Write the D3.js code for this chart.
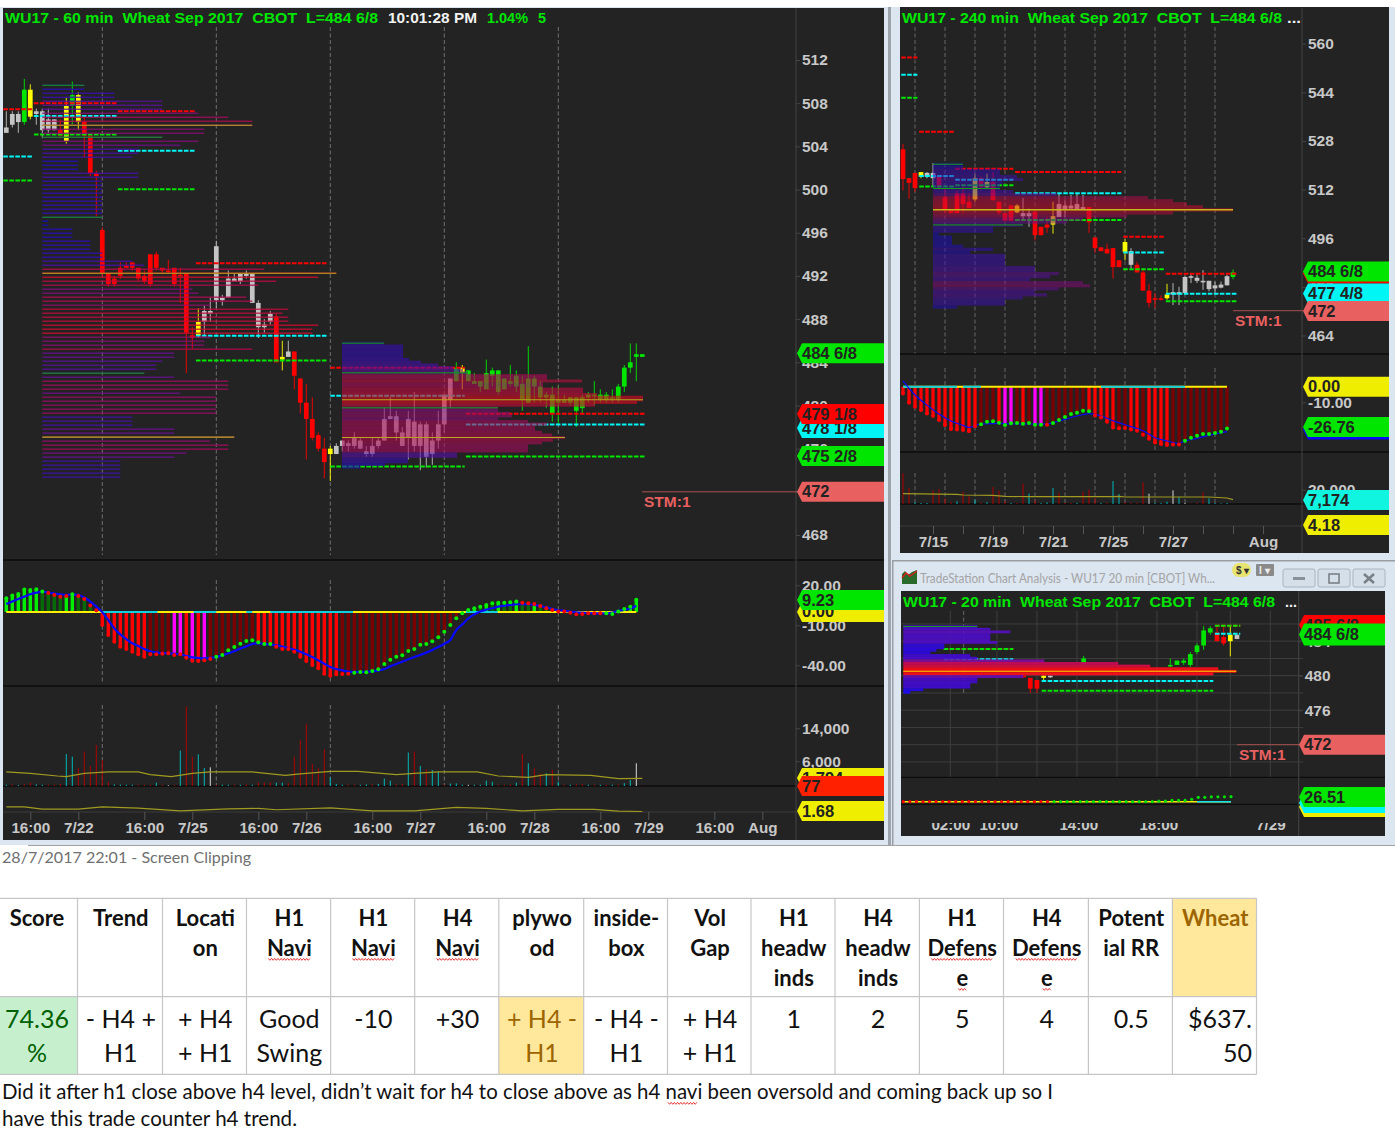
<!DOCTYPE html>
<html>
<head>
<meta charset="utf-8">
<script src="https://d3js.org/d3.v7.min.js"></script>
<style>
body { margin: 0; background: #fff; }
svg { display: block; }
svg text { white-space: pre; }
.tv { font-family: "Liberation Sans", Arial, sans-serif; font-weight: bold; }
.cal { font-family: Lato, "Noto Sans", sans-serif; }
</style>
</head>
<body>
<svg id="chart" width="1395" height="1136"></svg>
<script>
// --- 60 min chart: [body top, body bottom, high, low, kind]
const candles60 = [
[505.75,505.25,507.25,505.25,'w'],[507,506,507.25,505.75,'w'],[507,506.25,507.25,505.25,'w'],[509.25,506.25,510.25,506,'g'],
[509.25,506.75,509.75,506.5,'y'],[507.25,507,507.5,506,'w'],[507.25,505.5,507.5,504.75,'w'],[506.5,505.5,507.5,505.25,'w'],
[506.5,505.5,506.5,505.5,'w'],[505.5,505,506.5,504.75,'r'],[507.75,504.5,508.5,504.25,'y'],[508.75,507.75,510,506,'g'],
[508.75,506.25,509,505.5,'y'],[506.25,505,506.75,503,'r'],[505,501.5,505,501.25,'r'],[501.5,501.25,501.75,497.5,'r'],
[496.25,492.25,496.5,492,'r'],[492.25,491.25,492.25,491,'r'],[491.75,491.25,492,491,'r'],[492.75,492,493.25,491.75,'r'],
[493,492.75,493.25,492.75,'r'],[493.25,492.75,493.25,492.5,'r'],[492.75,491.75,492.75,491.5,'r'],[492,491.5,492.5,491.25,'r'],
[494,491.25,494,491,'r'],[494,492.75,494.25,492.5,'r'],[492.75,492.5,492.75,492.25,'r'],[492.5,492.5,493.5,492.25,'r'],
[492.75,491.25,492.75,491,'r'],[492.1,492.1,492.75,489.5,'r'],[492.25,486.75,492.25,483,'r'],[486.5,486.25,487.25,485.25,'r'],
[487.75,486.5,489,486.25,'y'],[488.75,487.75,489.25,486.5,'w'],[488.75,488.5,490,487.75,'w'],[494.75,489.75,495.25,489,'w'],
[490,489.75,490.25,489.25,'w'],[491.75,490,492.5,490,'w'],[491.75,491.5,492.25,491.5,'w'],[492.25,491.5,492.25,491.25,'w'],
[492.25,492,492.5,491.75,'w'],[492.25,489.5,492.25,489.5,'w'],[489.5,487.25,489.75,486.25,'w'],[487.5,487.25,488,486.75,'w'],
[488.5,487.75,488.75,487.5,'w'],[488.25,484,488.5,484,'r'],[484.5,484.25,486,483.25,'y'],[485,484.5,486,484.5,'w'],
[485,482.75,485,481.5,'r'],[482.5,480.25,482.5,479.25,'r'],[480.25,478.75,482,475,'r'],[478.75,477,480.75,476.75,'r'],
[477.25,476,477.5,475.75,'r'],[476,474.75,477,473.25,'r'],[476,475.5,476.25,473,'y'],[476.25,475.5,476.5,475.5,'w'],
[476.75,476.25,476.75,475.75,'w'],[476.5,476.25,476.75,475.75,'w'],[477,476.25,477.5,476,'w'],[476.75,476,477,476,'w'],
[475.75,475.5,476.25,475.25,'w'],[476.25,475.5,477,475.25,'w'],[476.75,476.25,477,476,'w'],[478.75,476.75,479.75,476.75,'w'],
[479,478.75,480.75,478.75,'w'],[479,477.5,479.5,476.75,'w'],[477.5,476.25,478,476.25,'w'],[478.75,477,479.5,475,'w'],
[478.5,476.25,481.25,475.75,'w'],[478.25,476.25,478.5,474,'w'],[478.25,475.25,478.5,474.25,'w'],[476.75,475.5,477.5,474.5,'w'],
[478.25,476.75,479.5,476,'w'],[481,478.25,481,477.5,'w'],[482.5,480.5,482.5,479.75,'w'],[483.5,482.25,484,482.25,'g'],
[483.5,483,483.75,481.5,'y'],[483.25,482.25,483.25,482.25,'g'],[482.25,482,483,482,'g'],[482.25,481.75,482.25,481.25,'g'],
[483,481.5,484.25,481.5,'g'],[483.25,482.75,483.5,481.75,'g'],[483.25,481.25,483.25,481,'g'],[482.5,481.5,482.5,481.5,'g'],
[482.25,482,483.75,481.75,'g'],[482.75,481.75,483.25,481.25,'g'],[482,480.5,482.75,479.5,'g'],[482.5,480.25,485.5,480.25,'g'],
[482.5,481.75,482.75,480.25,'g'],[481.75,480.75,482.25,480.25,'g'],[481,480.75,481.25,479.75,'g'],[481,479.25,481.75,478.5,'g'],
[480.5,480.25,481.75,478.25,'g'],[480.5,480.25,481,480.25,'g'],[480.75,480.25,480.75,480,'g'],[480.75,479.5,480.75,478,'g'],
[480.75,479.75,481,479.25,'g'],[481,480.75,481.25,480.25,'g'],[481,481,482.25,480,'g'],[481,480.5,481.5,480.25,'g'],
[481,480.5,481.25,480.25,'g'],[480.75,480.75,481.5,480.25,'g'],[481.75,480.5,482,480.25,'g'],[483.5,481.75,483.75,481.25,'g'],
[484,483.5,485.75,483,'g'],[484.75,484.5,485.75,482.25,'g'],[484.75,484.5,484.75,484.5,'g']
];
// [from bar, to bar, red, cyan, green]
const levels60 = [
[-0.5,4.4,507.44,503.06,500.83],[4.6,18.5,508,506.82,505.1],[18.6,31.4,507.25,503.6,500.03],
[31.6,53.4,493.18,486.45,484.17],[54,76.4,483.5,480.9,474.35],[76.6,106.5,479.23,478.24,475.28]
];
const profileA60 = [42,42,72,72,120,120,120,156,186,210,210,162,162,120,156,138,96,96,90,36,36,36,96,96,60,60,60,60,60,60,60,60,60,60,
6,6,30,30,30,48,48,48,60,60,90,102,222,294,276,234,216,150,156,204,210,168,246,240,246,246,276,270,270,168,162,162,210,132,132,120,114,114,
102,132,186,186,186,138,174,174,174,174,174,90,90,90,132,132,192,168,186,186,144,132,78,78,78,78,78];
const profileAGreen = [0,13,33,72];
const profileAPoc = [10,47,88];
const profileB60 = [42,61,61,61,61,61,67,79,96,111,121,126,205,205,240,201,201,241,241,255,301,301,295,253,156,156,168,170,156,186,205,193,193,200,210,223,211,200,186,186,186,115,115,66,66,43,18];
const profileBGreen = [0,11,24];
const profileBPoc = [21,35];

const osc60 = [10.3,12.3,13.5,16.8,16.5,17,15.3,14.3,12.8,11.5,12,13.3,12,9.8,4.8,1.3,
-9.8,-17.3,-22.3,-26,-27.8,-29.8,-31.8,-33.5,-31.8,-31.8,-31.3,-31,-32.3,-31.8,-34.3,-36.5,-36.8,-36.3,-35.3,-33.5,-32.3,-28.8,-26.3,-23.8,-21.8,-21.3,-22.8,-24,-24,-26,-27.8,-27.8,-29.8,-33.5,-36.8,-39.8,-42.3,-46.3,-47.8,-46.8,-46.5,-46.3,-45.5,-45,-45.3,-44.3,-43,-39,-35.8,-33.5,-32.5,-29.3,-27.8,-24.5,-24,-22,-19,-14.8,-9.8,
-4.8,-1,1.5,2.8,4,5.3,6.5,7,7,7.3,7.8,7,6.5,6,4.5,2.8,1.5,0.3,0.3,-0.5,-1.8,-1.5,-1,-1,-1,-1,-1.5,0.3,2.3,4,9.2];
const signal60 = [6,7.8,9.8,11.5,13.3,14.5,15.3,14.5,13.8,13.3,12.8,13,12.8,10.8,7.8,4,
-0.3,-6,-12.3,-16.8,-20.3,-23.5,-25.5,-27.8,-29.5,-30.3,-30.8,-31,-31.3,-31.8,-33,-34,-34.5,-34.8,-34.5,-33.8,-32.5,-31,-29.5,-27.5,-25.8,-24,-23.5,-24,-24.5,-25,-26,-27,-28.3,-29.8,-31.8,-33.8,-36.3,-38.8,-41.3,-42.8,-43.8,-44.8,-45,-45,-44.8,-44.5,-44,-42.8,-40.8,-39,-37.3,-35.5,-33.8,-32.3,-30.5,-28.5,-26.3,-23.8,-21,
-13.5,-9.3,-4.8,-1.8,0.3,1.8,2.8,4,4.8,5.3,5.8,5.8,5.8,5.3,4.5,3.5,2.3,1.3,0.8,0.3,-0.3,-0.5,-0.8,-1,-1,-1,-0.5,0.8,1.5,2.8,4.5];
// bar colour codes: G bright green, g dark green, R bright red, r dark red, M magenta
const oscKinds60 = [['G',6],['g',4],['G',2],['g',4],['R',8],['r',4],['M',2],['R',1],['M',1],['R',1],['M',1],['r',8],['R',14],['r',21],
['G',2],['g',1],['G',1],['g',1],['G',1],['g',2],['G',1],['g',2],['G',1],['g',5],['r',8],['g',1],['G',3]];
const dotKinds60 = [['g',7],['r',4],['g',1],['r',23],['g',10],['r',13],['g',28],['r',14],['g',6]];
const cyanRuns60 = [[16,25.2],[31.2,35],[40,41],[44,57.8],[76.6,81.9]];

const vol60 = [300,350,250,400,810,400,300,350,300,500,7776,7128,4374,8343,4860,9963,6318,1000,400,350,300,300,300,300,300,800,300,200,300,8586,19278,7128,7695,4374,4536,300,300,300,300,300,400,300,900,800,900,800,800,700,7128,11178,15066,5346,4293,8910,2106,500,300,300,300,300,400,400,500,1782,1296,400,500,8100,8343,4860,4050,3888,3564,300,600,648,300,300,300,300,1296,1000,300,300,400,800,7776,5508,4293,3078,3078,3888,1053,300,300,400,500,300,300,300,300,300,300,700,1458,5508,77];
const volKinds60 = 'crcrrccrrrccrrrrrrccccrrrcrwrcrrccwrccrcrcrrrccrrrrrrrcccrrccrcccrrcrcrccrcccwccccrrrcrcrrcrcrcrrcrcrcrccwr';
const volAvgBars60 = [0,4,8.5,10,13,17,22,24,27.5,31,34,41,46.5,49,54,58.6,65,68,72,78.5,82,87,90,97.4,102,106];
const volAvg60 = [3402,3078,2430,2268,3078,3402,3402,2754,2268,3078,3402,3402,2592,2916,3564,3564,2754,3078,3402,3402,2430,2106,2754,2592,1782,1863];
const ratioBars60 = [0,3,6,12,16,22,29,37,42,45,54,61,68,75,80,86,92,98,102,106];
const ratio60 = [2.14,2.14,1.91,1.91,2.14,2.01,1.75,1.94,1.98,1.85,2.04,1.75,1.75,2.08,1.98,1.75,1.88,1.88,1.71,1.68];

const priceTicks60 = [512,508,504,500,496,492,488,484,480,476,472,468];
const gridBars60 = [16,35,54,73,92];
const timeBars60 = [4,12,23,31,42,50,61,69,80,88,99,107,118,126];
const timeLabels60 = ['16:00','7/22','16:00','7/25','16:00','7/26','16:00','7/27','16:00','7/28','16:00','7/29','16:00','Aug'];

// --- 240 min chart
const candles240 = [
[525.25,515.5,527,511.75,'r'],[515.75,514.25,515.75,509,'r'],[517.5,512.5,517.5,511.25,'r'],[517.75,516.25,517.75,515.75,'y'],
[517.5,516.25,517.75,515.75,'w'],[517.5,515.75,520.75,513,'w'],[516.25,512.75,516.25,512,'r'],[509.5,505.25,512.5,504.25,'r'],
[505.25,504.25,505.25,504.25,'r'],[510.75,504.25,511.75,504.25,'r'],[510.75,507.25,513.5,504.25,'r'],[508,506,510.75,506,'r'],
[515.75,508.75,517.25,508,'y'],[515.75,512.75,516.25,512,'r'],[514.5,512.75,517.25,512.25,'y'],[514.5,508.5,517.75,508.5,'r'],
[508,504.5,508,503.75,'r'],[504.25,501.75,504.25,501.75,'r'],[506.75,501.75,507,501.75,'r'],[506.75,504.5,507.25,504.25,'y'],
[504.25,503.25,509.25,502,'w'],[504.25,503.25,505.75,499.75,'w'],[504.75,497,504.75,495.25,'r'],[499.75,497,499.75,497,'r'],
[500.5,499.5,503,497.75,'r'],[503.25,500.5,508,497.5,'y'],[507.25,503,510.75,503,'w'],[506.75,505.5,508.5,503,'w'],
[506.75,505.75,510.25,505.75,'w'],[507.25,505.25,510.75,505.25,'w'],[506.25,505.25,510.25,505.25,'w'],[506.25,501.25,506.25,497.75,'r'],
[496.25,492.75,496.25,491.25,'r'],[493,491.75,493,491.75,'r'],[492.5,491,494.25,491,'r'],[492.75,486.5,492.75,482.75,'r'],
[488.75,486.5,488.75,486.5,'r'],[494.75,491.5,495.75,488.75,'y'],[491.75,487.25,492.75,486,'w'],[487.25,484.75,488.25,484.75,'r'],
[484.75,478.75,485.75,478.75,'r'],[478.75,474.75,481,473.25,'r'],[476.25,476,478,473,'r'],[476.25,476,477.25,475.5,'r'],
[477.5,476.25,481,475.75,'y'],[478.25,477.5,481.25,474,'w'],[478.25,477.5,480,474,'w'],[483.25,478,483.5,477.5,'w'],
[483.5,483,484.5,481.25,'w'],[483,482,484,481.25,'w'],[482,481.75,485.5,479,'w'],[482,479.25,482,478.5,'w'],
[480.5,479.5,481.75,478,'w'],[480.75,479.75,481.75,479.5,'w'],[483.5,480.5,484,480.5,'w'],[484.75,483.25,485.75,482.5,'g']
];
const levels240 = [
[-0.3,2.4,555.5,549.8,542.2],[2.7,8.5,531,516.5,513],[8.7,18.4,518.9,515.2,513.4],
[18.7,36.4,517.8,510.8,502],[36.7,43.5,496.5,491.3,485.8],[43.8,55.6,484.3,477.7,475.3]
];
const profile240 = [30,30,67,67,84,90,70,67,67,80,124,215,240,254,270,300,240,194,150,134,90,60,60,6,19,19,19,30,60,37,72,72,72,72,102,102,126,117,97,150,157,126,102,114,90,72,72,24];
const profile240Green = [0,8,20];
const profile240Poc = [15];
const osc240 = [-4.3,-10.3,-12.8,-15,-17.1,-18.8,-21.4,-24.6,-27.1,-27.4,-27.8,-28.6,-25.4,-24.1,-22.4,-22.2,-23.1,-24.6,-23.5,-23.3,-23.7,-23.3,-24.4,-24.4,-24.4,-23.3,-21.4,-19.4,-17.5,-16.7,-15.4,-15.8,-18.4,-19.7,-22.4,-26.1,-26.7,-26.5,-27.4,-28.2,-30.8,-33.3,-35.7,-36.8,-37.4,-37,-37,-34.6,-32.7,-31.4,-30.3,-30.3,-29.7,-28.8,-26.76];
const signalBars240 = [0,2,4,6,8,10,11,13,16,18,22,24,26,29,31,33,35,38,40,42,44,46,47,49,51,54];
const signal240 = [3.8,-5.3,-11.8,-17.5,-22,-24.8,-26.1,-23.9,-23.5,-23.9,-23.9,-23.9,-22,-18.8,-17.3,-18.8,-21.8,-25.6,-28.2,-32.7,-34.8,-36.3,-34.8,-33.1,-31.2,-28.8];
const oscKinds240 = [['R',13],['r',3],['R',1],['M',2],['r',1],['R',1],['r',1],['M',2],['r',7],['R',5],['r',2],['R',2],['r',1],['R',4],['r',10]];
const dotKinds240 = [['r',13],['g',11],['r',1],['g',7],['r',15],['g',8]];
const cyanRuns240 = [[0,9],[10,13],[33,47]];
const vol240 = [43245,22320,2325,1395,1395,19065,20925,7905,2325,3720,17205,10695,6045,1395,2325,23715,18600,4185,1395,1395,28365,14415,5115,1395,2325,22320,15345,1395,1395,1395,17205,19995,7905,1395,1395,32085,13950,2325,1395,1395,30225,14415,1395,1395,3255,19065,9765,1395,465,1395,16275,7905,1395,930,1395,7174];
const volKinds240 = 'rrcccrrrrcrrcrcrrrcrrcrcccrrrcrrrcrccrrrrwcccwcwrrrcccc';
const volAvgBars240 = [0,9,10,15,17,21,35,36,37,51,54,55];
const volAvg240 = [14415,13485,12555,12090,10695,10230,10230,10695,9765,9765,8370,6045];
const priceTicks240 = [560,544,528,512,496,480,464];
const gridBars240 = [2,7,12,17,22,27,32,37,42,47,52];
const timeBars240 = [5,10,15,20,25,30,35,40,45,50,55,60];
const timeLabels240 = ['7/15','','7/19','','7/21','','7/25','','7/27','','','Aug'];

// --- 20 min chart
const candles20 = [
[480,480,480,479.75,'r'],[479.75,478.5,479.75,478,'r'],[479.5,478.5,479.5,478,'r'],[480,479.75,480,479.5,'y'],[480,480,480,479.75,'w'],
[482,481.5,482.3,481.3,'g'],[481.25,481.25,482,481,'g'],[481.75,481.25,481.75,481.25,'g'],[481.75,481.5,482,481.25,'g'],[482.5,481.25,482.75,481,'g'],
[483.5,482.75,483.75,482.5,'g'],[485.25,483.5,485.75,483,'g'],[485.5,485,485.75,484.75,'g'],[485,484,485.75,484,'r'],[484.5,483.75,485.75,483.5,'r'],
[484.75,484,485.75,482.25,'y'],[484.75,484.25,484.75,484.25,'w']
];
const candleBars20 = [-1,0,1,2,3,8,21,22,23,24,25,26,27,28,29,30,31];
const levels20 = [[-13,-2.55,483.1,481.9,483.1],[1.7,27.45,480.2,479.4,478.25],[27.7,31.5,485.8,484.85,485.8]];
const profile20 = [74,87,107,87,87,87,94,41,41,33,27,67,74,141,215,247,315,333,310,120,74,74,67,67,20,7];
const priceGrid20 = [486,484,482,480,478,476,474,472,470];
const gridBars20 = [-12,-5,1,7,13,19,25,30,36];
const priceTicks20 = [484,480,476];
const timeBars20 = [-12,-4.8,7.2,19.2,36];
const timeLabels20 = ['02:00','10:00','14:00','18:00','7/29'];
const dots20 = [0,0,0,0,0,0,0,0,0,0,0,0,0,0,0,0,0,0,0,0,0,0,0,0,0,0,0,0,0,0,0,0,0,0,0,0,0,0,0,3,3,6.6,6.6,6.6,13,23,23,26,26,26,26.51];

// --- table below the charts
const tableColumns = [77.5,162.5,246.5,330.6,414.7,498.8,583.7,667.5,751,835,919.4,1003.5,1088.4,1172.4,1256.5];
const tableHeaders = [['Score'],['Trend'],['Locati','on'],['H1','Navi'],['H1','Navi'],['H4','Navi'],['plywo','od'],['inside-','box'],['Vol','Gap'],['H1','headw','inds'],['H4','headw','inds'],['H1','Defens','e'],['H4','Defens','e'],['Potent','ial RR'],['Wheat']];
const tableValues = [['74.36','%'],['- H4 +','H1'],['+ H4','+ H1'],['Good','Swing'],['-10'],['+30'],['+ H4 -','H1'],['- H4 -','H1'],['+ H4','+ H1'],['1'],['2'],['5'],['4'],['0.5'],['$637.','50']];

const BG = '#232323', RED = '#ff0000', GREEN = '#00e600', CYAN = '#00f5f5', YELLOW = '#f0ee00', SALMON = '#e86060';
const candleColors = {w: '#c4c4c4', g: GREEN, r: RED, y: '#ffff00'};
const oscColors = {G: '#00ee00', g: '#066b06', R: '#ff0000', r: '#7a0000', M: '#ff00ff'};
const volColors = {r: '#b00000', c: '#00b8b8', w: '#d8d8d8'};
const profileColor = d3.scaleLinear().domain([0, 110, 180, 300]).range(['#120cc4', '#5010a8', '#a00c60', '#e00a20']);

const expand = runs => d3.merge(runs.map(r => d3.range(r[1]).map(() => r[0])));
// plain hyphen like the terminal draws, not d3's minus sign
const fixed2 = d => d3.format('.2f')(d).replace('\u2212', '-');
const svg = d3.select('#chart');

// window frames
svg.append('rect').attr('width', 1395).attr('height', 1136).attr('fill', '#fff');
svg.append('rect').attr('y', 7).attr('width', 893).attr('height', 838).attr('fill', '#dce6f1');
svg.append('rect').attr('x', 893).attr('y', 7).attr('width', 502).attr('height', 838).attr('fill', '#dce6f1');
svg.append('rect').attr('x', 888).attr('y', 7).attr('width', 3).attr('height', 838).attr('fill', '#9ea4ac');
svg.append('rect').attr('x', 28).attr('y', 845).attr('width', 1367).attr('height', 1).attr('fill', '#a0a0a0');
svg.append('rect').attr('x', 893).attr('y', 560).attr('width', 502).attr('height', 1.5).attr('fill', '#9a9ea4');
svg.append('rect').attr('x', 892).attr('y', 560).attr('width', 1.5).attr('height', 285).attr('fill', '#9a9ea4');
svg.append('rect').attr('x', 3).attr('y', 8).attr('width', 881).attr('height', 832).attr('fill', BG);
svg.append('rect').attr('x', 900).attr('y', 7).attr('width', 489).attr('height', 546).attr('fill', BG);
svg.append('rect').attr('x', 901).attr('y', 591).attr('width', 484).attr('height', 245).attr('fill', BG);

function drawCandles(g, x, y, data, w, bars) {
  const xOf = (d, i) => x(bars ? bars[i] : i);
  g.append('g').selectAll('line').data(data).join('line')
    .attr('x1', xOf).attr('x2', xOf)
    .attr('y1', d => y(d[2])).attr('y2', d => y(d[3]))
    .attr('stroke', d => candleColors[d[4]]).attr('stroke-width', 0.9);
  g.append('g').selectAll('rect').data(data).join('rect')
    .attr('x', (d, i) => xOf(d, i) - w / 2).attr('width', w)
    .attr('y', d => y(d[0])).attr('height', d => Math.max(1.6, y(d[1]) - y(d[0])))
    .attr('fill', d => candleColors[d[4]]);
}

function drawLevels(g, x, y, sets) {
  const colors = [RED, CYAN, GREEN];
  sets.forEach(s => colors.forEach((c, k) => {
    g.append('line').attr('x1', x(s[0])).attr('x2', x(s[1]))
      .attr('y1', y(s[2 + k])).attr('y2', y(s[2 + k]))
      .attr('stroke', c).attr('stroke-width', 2).attr('stroke-dasharray', '4.6 1.4');
  }));
}

// horizontal volume profile: rows run from topPrice to lowPrice
function drawProfile(g, y, vols, opt) {
  const row = d3.scaleLinear().domain([0, vols.length - 1]).range([opt.topPrice, opt.lowPrice]);
  const w = d3.scaleLinear().domain([0, 300]).range([0, 300]);
  const step = y(row(1)) - y(row(0));
  const color = opt.color || profileColor;
  g.append('g').selectAll('rect').data(vols).join('rect')
    .attr('x', opt.x0).attr('width', d => w(d))
    .attr('y', (d, i) => y(row(i)) - (opt.thin ? 0.65 : step / 2))
    .attr('height', opt.thin ? 1.3 : step + 0.2)
    .attr('fill', d => color(d))
    .attr('opacity', opt.opacity);
  (opt.green || []).forEach(r => {
    g.append('line').attr('x1', opt.x0).attr('x2', opt.x0 + w(vols[r]))
      .attr('y1', y(row(r))).attr('y2', y(row(r)))
      .attr('stroke', '#12a012').attr('stroke-width', 1);
  });
  (opt.poc || []).forEach(r => {
    g.append('line').attr('x1', opt.x0).attr('x2', opt.x0 + w(vols[r]))
      .attr('y1', y(row(r))).attr('y2', y(row(r)))
      .attr('stroke', opt.pocColor || '#b0aa20').attr('stroke-width', opt.pocWidth || 1.1);
  });
}

function drawOsc(g, x, y, vals, kinds, dots, sigBars, sig, cyanRuns, barW, sigW) {
  g.append('g').selectAll('line').data(vals).join('line')
    .attr('x1', (d, i) => x(i)).attr('x2', (d, i) => x(i))
    .attr('y1', y(0)).attr('y2', d => y(d))
    .attr('stroke', (d, i) => oscColors[kinds[i]]).attr('stroke-width', barW);
  const zeroEnd = vals.length - 1;
  g.append('line').attr('x1', x(0)).attr('x2', x(zeroEnd)).attr('y1', y(0)).attr('y2', y(0))
    .attr('stroke', '#ffee00').attr('stroke-width', 2);
  cyanRuns.forEach(r => g.append('line').attr('x1', x(r[0])).attr('x2', x(r[1])).attr('y1', y(0)).attr('y2', y(0))
    .attr('stroke', '#10d0e0').attr('stroke-width', 2));
  const line = d3.line().x(d => x(d[0])).y(d => y(d[1])).curve(d3.curveMonotoneX);
  g.append('path').attr('d', line(sig.map((v, i) => [sigBars ? sigBars[i] : i, v])))
    .attr('fill', 'none').attr('stroke', '#0808ff').attr('stroke-width', sigW);
  g.append('g').selectAll('circle').data(vals).join('circle')
    .attr('cx', (d, i) => x(i)).attr('cy', d => y(d)).attr('r', 2)
    .attr('fill', (d, i) => dots[i] === 'g' ? '#00f000' : '#ff0000');
}

function drawVolume(g, x, y, vals, kinds, avgBars, avg) {
  g.append('g').selectAll('line').data(vals).join('line')
    .attr('x1', (d, i) => x(i)).attr('x2', (d, i) => x(i))
    .attr('y1', y(0)).attr('y2', d => y(d))
    .attr('stroke', (d, i) => volColors[kinds[i]]).attr('stroke-width', 1);
  const line = d3.line().x(d => x(d[0])).y(d => y(d[1]));
  g.append('path').attr('d', line(avg.map((v, i) => [avgBars[i], v])))
    .attr('fill', 'none').attr('stroke', '#a09a20').attr('stroke-width', 1.2);
}

function tag(g, x0, x1, yc, h, label, fill) {
  const a = 5;
  g.append('path')
    .attr('d', `M${x0},${yc}L${x0 + a},${yc - h / 2}L${x1},${yc - h / 2}L${x1},${yc + h / 2}L${x0 + a},${yc + h / 2}Z`)
    .attr('fill', fill);
  g.append('text').attr('class', 'tv').attr('x', x0 + 5).attr('y', yc + 5.5)
    .attr('font-size', 16.5).attr('fill', '#222').text(label);
}

function priceAxis(g, xPos, scale, ticks, fmt) {
  const ax = g.append('g').attr('class', 'tv').attr('transform', `translate(${xPos},0)`)
    .call(d3.axisRight(scale).tickValues(ticks).tickFormat(fmt).tickSize(4).tickPadding(2));
  ax.select('.domain').remove();
  ax.selectAll('line').attr('stroke', '#444');
  ax.selectAll('text').attr('fill', '#c8c8c8').attr('font-size', 15.5)
    .attr('font-family', '"Liberation Sans", Arial, sans-serif').attr('font-weight', 'bold');
}

function timeAxis(g, yPos, scale, bars, labels, tickLen, pad) {
  const ax = g.append('g').attr('transform', `translate(0,${yPos})`)
    .call(d3.axisBottom(scale).tickValues(bars).tickFormat((d, i) => labels[i]).tickSize(tickLen).tickPadding(pad));
  ax.select('.domain').remove();
  ax.selectAll('line').attr('stroke', '#555');
  ax.selectAll('text').attr('fill', '#c8c8c8').attr('font-size', 15.2)
    .attr('font-family', '"Liberation Sans", Arial, sans-serif').attr('font-weight', 'bold');
}

function title(g, x, y, txt, fill, len) {
  g.append('text').attr('class', 'tv').attr('x', x).attr('y', y).attr('font-size', 15)
    .attr('fill', fill).attr('textLength', len).attr('lengthAdjust', 'spacingAndGlyphs').text(txt);
}

function hline(g, x1, x2, y, c, w) {
  g.append('line').attr('x1', x1).attr('x2', x2).attr('y1', y).attr('y2', y).attr('stroke', c).attr('stroke-width', w);
}

function vgrid(g, x, bars, segs, color, dash) {
  segs.forEach(s => {
    g.append('g').selectAll('line').data(bars).join('line')
      .attr('x1', d => x(d)).attr('x2', d => x(d)).attr('y1', s[0]).attr('y2', s[1])
      .attr('stroke', color).attr('stroke-dasharray', dash);
  });
}

// ---------- 60 min
{
  const g = svg.append('g');
  const x = d3.scaleLinear().domain([0, 100]).range([6.3, 606.3]);
  const y = d3.scaleLinear().domain([512, 468]).range([60, 535]);
  vgrid(g, x, gridBars60, [[27, 555], [580, 684], [705, 786]], '#707070', '4 2.5');
  drawCandles(g, x, y, candles60, 4.7);
  drawLevels(g, x, y, levels60);
  drawProfile(g, y, profileA60, {x0: 42.3, topPrice: 509.66, lowPrice: 473.36, thin: true, opacity: 0.9, green: profileAGreen, poc: profileAPoc});
  drawProfile(g, y, profileB60, {x0: 342, topPrice: 485.77, lowPrice: 474.29, opacity: 0.6, green: profileBGreen, poc: profileBPoc});
  hline(g, 3, 884, 560, '#0c0c0c', 1.5);
  hline(g, 3, 884, 686, '#0c0c0c', 1.5);
  hline(g, 3, 884, 786, '#0c0c0c', 1.5);
  hline(g, 3, 796, 812, '#3c3c3c', 1);
  g.append('line').attr('x1', 796).attr('x2', 796).attr('y1', 8).attr('y2', 840).attr('stroke', '#444');

  const osc = d3.scaleLinear().domain([20, -40]).range([585.3, 665.3]);
  drawOsc(g, x, osc, osc60, expand(oscKinds60), expand(dotKinds60), null, signal60, cyanRuns60, 3.4, 2.2);

  const vol = d3.scaleLinear().domain([0, 8000]).range([786, 753]);
  drawVolume(g, x, vol, vol60, volKinds60, volAvgBars60, volAvg60);
  const ratio = d3.scaleLinear().domain([1.68, 2.14]).range([811.5, 806.8]);
  const ratioLine = d3.line().x(d => x(d[0])).y(d => ratio(d[1]));
  g.append('path').attr('d', ratioLine(ratio60.map((v, i) => [ratioBars60[i], v])))
    .attr('fill', 'none').attr('stroke', '#a09a20').attr('stroke-width', 1.2);
  timeAxis(g, 812, x, timeBars60, timeLabels60, 8, 2);

  priceAxis(g, 796, y, priceTicks60, d3.format('d'));
  priceAxis(g, 796, osc, [20, -10, -40], fixed2);
  priceAxis(g, 796, vol, [14000, 6000], d3.format(','));

  g.append('line').attr('x1', 642).attr('x2', 797).attr('y1', y(472)).attr('y2', y(472)).attr('stroke', '#a85050');
  g.append('text').attr('class', 'tv').attr('x', 644).attr('y', 507).attr('font-size', 15.5).attr('fill', SALMON).text('STM:1');

  tag(g, 797, 884, y(484.75) - 1, 20, '484 6/8', GREEN);
  tag(g, 797, 884, 428, 20, '478 1/8', CYAN);
  tag(g, 797, 884, 414, 20, '479 1/8', RED);
  tag(g, 797, 884, 456, 20, '475 2/8', GREEN);
  tag(g, 797, 884, y(472), 20, '472', SALMON);
  tag(g, 797, 884, osc(0), 20, '0.00', YELLOW);
  tag(g, 797, 884, 600, 20, '9.23', GREEN);
  tag(g, 797, 884, 778, 20, '1,794', YELLOW);
  tag(g, 797, 884, 786, 20, '77', '#ff2000');
  tag(g, 797, 884, 811, 20, '1.68', YELLOW);

  title(g, 5, 23, 'WU17 - 60 min  Wheat Sep 2017  CBOT  L=484 6/8', GREEN, 373);
  title(g, 388, 23, '10:01:28 PM', '#f2f2f2', 89);
  title(g, 487, 23, '1.04%', GREEN, 41);
  title(g, 538, 23, '5', GREEN, 8);
}

// ---------- 240 min
{
  const g = svg.append('g');
  const x = d3.scaleLinear().domain([0, 50]).range([903, 1203]);
  const y = d3.scaleLinear().domain([560, 464]).range([43.7, 335.5]);
  vgrid(g, x, gridBars240, [[27, 354], [368, 452], [473, 504]], '#666', '4 2.5');
  drawCandles(g, x, y, candles240, 4.7);
  drawLevels(g, x, y, levels240);
  drawProfile(g, y, profile240, {x0: 933, topPrice: 520.35, lowPrice: 473.4, opacity: 0.52, green: profile240Green, poc: profile240Poc, pocColor: '#c0b820', pocWidth: 1.5});
  hline(g, 900, 1389, 354, '#0c0c0c', 1.5);
  hline(g, 900, 1389, 452, '#0c0c0c', 1.5);
  hline(g, 900, 1389, 504, '#0c0c0c', 1.5);
  hline(g, 900, 1302, 526, '#3c3c3c', 1);
  g.append('line').attr('x1', 1302).attr('x2', 1302).attr('y1', 8).attr('y2', 553).attr('stroke', '#444');

  const osc = d3.scaleLinear().domain([0, -10]).range([386.7, 402.3]);
  drawOsc(g, x, osc, osc240, expand(oscKinds240), expand(dotKinds240), signalBars240, signal240, cyanRuns240, 3.3, 1.2);
  const vol = d3.scaleLinear().domain([0, 20000]).range([504, 489.7]);
  drawVolume(g, x, vol, vol240, volKinds240, volAvgBars240, volAvg240);
  timeAxis(g, 526, x, timeBars240, timeLabels240, 8, 2);

  priceAxis(g, 1302, y, priceTicks240, d3.format('d'));
  priceAxis(g, 1302, osc, [-10], fixed2);
  priceAxis(g, 1302, vol, [20000], d3.format(','));

  g.append('line').attr('x1', 1233).attr('x2', 1303).attr('y1', 310.7).attr('y2', 310.7).attr('stroke', '#a85050');
  g.append('text').attr('class', 'tv').attr('x', 1235).attr('y', 326).attr('font-size', 15.5).attr('fill', SALMON).text('STM:1');

  tag(g, 1303, 1389, 273.5, 20, '', RED);
  tag(g, 1303, 1389, 271.5, 20, '484 6/8', GREEN);
  tag(g, 1303, 1389, 293.5, 20, '477 4/8', CYAN);
  tag(g, 1303, 1389, 311, 20, '472', SALMON);
  tag(g, 1303, 1389, osc(0), 20, '0.00', YELLOW);
  tag(g, 1303, 1389, 429.5, 20, '', '#0808ff');
  tag(g, 1303, 1389, 427, 20, '-26.76', GREEN);
  tag(g, 1303, 1389, 500, 20, '7,174', '#10f5e0');
  tag(g, 1303, 1389, 525, 20, '4.18', YELLOW);

  title(g, 902, 23, 'WU17 - 240 min  Wheat Sep 2017  CBOT  L=484 6/8', GREEN, 380);
  title(g, 1287, 23, '...', '#f2f2f2', 14);
}

// ---------- 20 min window
{
  const g = svg.append('g');
  // title bar
  g.append('path').attr('d', 'M902,584V574L905,571L908,575L912,572L917,570V584Z').attr('fill', '#2a6a2a');
  g.append('path').attr('d', 'M902,578L906,573L910,576L917,571').attr('fill', 'none').attr('stroke', '#d02020').attr('stroke-width', 1.5);
  g.append('text').attr('class', 'cal').attr('x', 920).attr('y', 583).attr('font-size', 12.5).attr('fill', '#a4a4a4')
    .attr('textLength', 295).attr('lengthAdjust', 'spacingAndGlyphs').text('TradeStation Chart Analysis - WU17 20 min [CBOT] Wh...');
  g.append('rect').attr('x', 1232).attr('y', 563).attr('width', 19).attr('height', 14).attr('rx', 7).attr('fill', '#e8e470');
  g.append('text').attr('class', 'tv').attr('x', 1236).attr('y', 574).attr('font-size', 10).attr('fill', '#333').text('$ ▾');
  g.append('rect').attr('x', 1256).attr('y', 564).attr('width', 18).attr('height', 12).attr('rx', 1).attr('fill', '#8a8a8a');
  g.append('text').attr('class', 'tv').attr('x', 1259).attr('y', 574).attr('font-size', 10).attr('fill', '#eee').text('I ▾');
  [1283, 1318, 1353].forEach(bx => g.append('rect').attr('x', bx).attr('y', 569).attr('width', 32).attr('height', 18)
    .attr('rx', 2).attr('fill', '#d5dfea').attr('stroke', '#aab4c0'));
  g.append('rect').attr('x', 1293).attr('y', 577).attr('width', 12).attr('height', 3).attr('fill', '#8a9098');
  g.append('rect').attr('x', 1329).attr('y', 574).attr('width', 10).attr('height', 9).attr('fill', 'none').attr('stroke', '#7a8088').attr('stroke-width', 1.6);
  g.append('path').attr('d', 'M1364,574L1374,583M1374,574L1364,583').attr('stroke', '#7a8088').attr('stroke-width', 2.6);

  const x = d3.scaleLinear().domain([0, 30]).range([1030.3, 1230.3]);
  const y = d3.scaleLinear().domain([480, 472]).range([675.7, 744.7]);
  g.append('g').selectAll('line').data(priceGrid20).join('line')
    .attr('x1', 901).attr('x2', 1303).attr('y1', d => y(d)).attr('y2', d => y(d)).attr('stroke', '#3e3e3e');
  vgrid(g, x, gridBars20, [[611, 777]], '#3e3e3e', 'none');
  vgrid(g, x, [-10], [[611, 695]], '#666', '4 2.5');
  drawCandles(g, x, y, candles20, 4.7, candleBars20);
  drawLevels(g, x, y, levels20);
  const bright = d3.scaleLinear().domain([0, 110, 200, 333]).range(['#1a08f0', '#5a10b8', '#c00c60', '#ff1010']);
  drawProfile(g, y, profile20, {x0: 903.3, topPrice: 485.7, lowPrice: 478.08, opacity: 0.95, color: bright, green: [0], poc: [17], pocColor: '#f0d000'});
  hline(g, 901, 1385, 777.3, '#0c0c0c', 1.2);
  hline(g, 901, 1385, 804.3, '#0c0c0c', 1.2);
  g.append('line').attr('x1', 1298.7).attr('x2', 1298.7).attr('y1', 591).attr('y2', 836).attr('stroke', '#444');

  const ind = d3.scaleLinear().domain([0, 26.51]).range([801.7, 796.7]);
  const dotX = d3.scaleLinear().domain([0, 50]).range([903.3, 1231]);
  hline(g, 903, 1231, ind(0), '#ffee00', 1.4);
  hline(g, 1197, 1231, ind(0), '#10e0f0', 1.6);
  g.append('g').selectAll('circle').data(dots20).join('circle')
    .attr('cx', (d, i) => dotX(i)).attr('cy', d => ind(d)).attr('r', 1.6)
    .attr('fill', (d, i) => i < 23 ? '#ff0000' : '#00e000');

  g.append('clipPath').attr('id', 'clip20').append('rect').attr('x', 901).attr('y', 823).attr('width', 400).attr('height', 13);
  const tAxis = g.append('g').attr('clip-path', 'url(#clip20)');
  timeAxis(tAxis, 818, x, timeBars20, timeLabels20, 0, 1);

  priceAxis(g, 1298.7, y, priceTicks20, d3.format('d'));
  g.append('line').attr('x1', 1237).attr('x2', 1299).attr('y1', y(472)).attr('y2', y(472)).attr('stroke', '#a85050');
  g.append('text').attr('class', 'tv').attr('x', 1239).attr('y', 760).attr('font-size', 15.5).attr('fill', SALMON).text('STM:1');

  tag(g, 1299, 1385, 625, 20, '485 6/8', RED);
  tag(g, 1299, 1385, 634.5, 22, '484 6/8', GREEN);
  tag(g, 1299, 1385, y(472), 20, '472', SALMON);
  tag(g, 1299, 1385, 807, 20, '7.20', YELLOW);
  tag(g, 1299, 1385, 803, 20, '', CYAN);
  tag(g, 1299, 1385, 797, 20, '26.51', GREEN);

  title(g, 903, 607, 'WU17 - 20 min  Wheat Sep 2017  CBOT  L=484 6/8', GREEN, 372);
  title(g, 1285, 607, '...', '#f2f2f2', 12);
}

// ---------- note text and table
function squiggle(g, x1, x2, y) {
  const pts = d3.range(x1, x2 + 0.1, 1.6).map((px, i) => [px, y + (i % 2 ? 1.3 : -0.6)]);
  g.append('path').attr('d', d3.line()(pts)).attr('fill', 'none').attr('stroke', '#e02020').attr('stroke-width', 0.9);
}
{
  const g = svg.append('g');
  g.append('text').attr('class', 'cal').attr('x', 2).attr('y', 863).attr('font-size', 16).attr('fill', '#707070')
    .attr('textLength', 249).attr('lengthAdjust', 'spacingAndGlyphs').text('28/7/2017 22:01 - Screen Clipping');

  const edges = [0].concat(tableColumns);
  const headTop = 898.3, headBottom = 996.7, rowBottom = 1074.3;
  g.append('rect').attr('x', 0).attr('y', headBottom).attr('width', 77.5).attr('height', rowBottom - headBottom).attr('fill', '#c6efce');
  g.append('rect').attr('x', edges[6]).attr('y', headBottom).attr('width', edges[7] - edges[6]).attr('height', rowBottom - headBottom).attr('fill', '#ffe89c');
  g.append('rect').attr('x', edges[14]).attr('y', headTop).attr('width', edges[15] - edges[14]).attr('height', headBottom - headTop).attr('fill', '#ffe89c');
  [headTop, headBottom, rowBottom].forEach(v => hline(g, 0, 1256.5, v, '#c6c6c6', 1.2));
  tableColumns.forEach(v => g.append('line').attr('x1', v).attr('x2', v).attr('y1', headTop).attr('y2', rowBottom).attr('stroke', '#c6c6c6').attr('stroke-width', 1.2));

  const centre = i => i === 0 ? 37 : (edges[i] + edges[i + 1]) / 2 + 0.8;
  tableHeaders.forEach((lines, i) => lines.forEach((txt, k) => {
    g.append('text').attr('class', 'cal').attr('x', centre(i)).attr('y', 926 + k * 30)
      .attr('text-anchor', 'middle').attr('font-size', 22).attr('font-weight', 'bold')
      .attr('fill', i === 14 ? '#9c6500' : '#111').text(txt);
  }));
  tableValues.forEach((lines, i) => lines.forEach((txt, k) => {
    const right = i === 14;
    g.append('text').attr('class', 'cal').attr('x', right ? 1252 : centre(i)).attr('y', 1027.5 + k * 34.5)
      .attr('text-anchor', right ? 'end' : 'middle').attr('font-size', 25)
      .attr('fill', i === 0 ? '#006100' : i === 6 ? '#9c6500' : '#111').text(txt);
  }));
  [3, 4, 5].forEach(i => squiggle(g, centre(i) - 21, centre(i) + 21, 959));
  [11, 12].forEach(i => {
    squiggle(g, centre(i) - 31, centre(i) + 31, 959);
    squiggle(g, centre(i) - 4, centre(i) + 4, 989);
  });

  g.append('text').attr('class', 'cal').attr('x', 2).attr('y', 1099).attr('font-size', 21).attr('fill', '#111')
    .attr('textLength', 1051).attr('lengthAdjust', 'spacingAndGlyphs')
    .text('Did it after h1 close above h4 level, didn’t wait for h4 to close above as h4 navi been oversold and coming back up so I');
  g.append('text').attr('class', 'cal').attr('x', 2).attr('y', 1126).attr('font-size', 21).attr('fill', '#111')
    .attr('textLength', 295).attr('lengthAdjust', 'spacingAndGlyphs').text('have this trade counter h4 trend.');
  squiggle(g, 668, 698, 1103);
}
</script>
</body>
</html>
